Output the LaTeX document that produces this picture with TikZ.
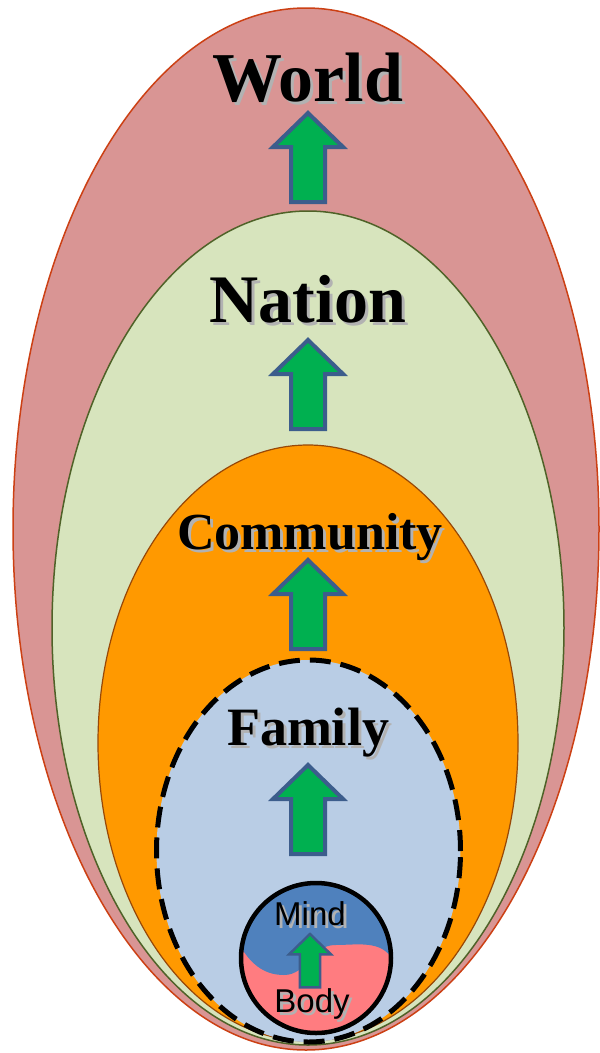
\documentclass[tikz,border=0pt]{standalone}
\usepackage{fontspec}
\setmainfont{Liberation Serif}
\setsansfont{Liberation Sans}
\usepackage{tikz}
\usetikzlibrary{calc}
\definecolor{worldfill}{RGB}{217,149,148}
\definecolor{worldline}{RGB}{204,64,20}
\definecolor{nationfill}{RGB}{215,228,189}
\definecolor{nationline}{RGB}{79,98,40}
\definecolor{commfill}{RGB}{255,153,0}
\definecolor{commline}{RGB}{152,72,7}
\definecolor{familyfill}{RGB}{185,205,229}
\definecolor{mindblue}{RGB}{79,129,189}
\definecolor{bodypink}{RGB}{255,124,128}
\definecolor{arrowgreen}{RGB}{0,176,80}
\definecolor{arrowline}{RGB}{60,93,140}
\tikzstyle{world}=[fill=worldfill, draw=worldline, line width=1.5pt]
\tikzstyle{nation}=[fill=nationfill, draw=nationline, line width=1.5pt]
\tikzstyle{community}=[fill=commfill, draw=commline, line width=1.2pt]
\tikzstyle{family}=[fill=familyfill, draw=black, line width=5pt, dash pattern=on 21pt off 10pt]
\tikzstyle{uparrow}=[fill=arrowgreen, draw=arrowline, line width=4pt, line join=miter]
\tikzstyle{title}=[anchor=base, font=\fontsize{68}{76}\selectfont\bfseries]
\tikzstyle{inner}=[anchor=base, font=\sffamily\fontsize{33}{36}\selectfont]
\newcommand{\upArrow}[3]{
	\begin{scope}[shift={#1}, scale=#2]
		\draw[uparrow, #3] (0,0) -- (35,-34) -- (17,-34) -- (17,-89) -- (-17,-89) -- (-17,-34) -- (-35,-34) -- cycle;
	\end{scope}
}
\newcommand{\shadowLabel}[4]{
	\node[#3, text=gray!60] (#1s) at ($#2+(3,-3)$) {#4};
	\node[#3] (#1) at #2 {#4};
}

\begin{document}
\begin{tikzpicture}[x=1pt, y=1pt]
	\fill[white] (0,0) rectangle (600,-1053);
	\useasboundingbox (0,0) rectangle (600,-1053);
	\draw[world] (306,-529) ellipse [x radius=293, y radius=521];
	\draw[nation] (308,-628) ellipse [x radius=256, y radius=417];
	\draw[community] (308,-743) ellipse [x radius=210, y radius=298];
	\draw[family] (308.5,-851) ellipse [x radius=152, y radius=191];
	% mind and body
	\begin{scope}
		\clip (316,-958) circle (75);
		\fill[bodypink] (316,-958) circle (75);
		\fill[mindblue] (230,-940) -- (239,-944) to[out=-60,in=180] (284,-975) to[out=0,in=180] (335,-945) to[out=0,in=120] (393,-960) -- (400,-962) -- (400,-870) -- (230,-870) -- cycle;
	\end{scope}
	\draw[line width=4.5pt] (316,-958) circle (75);
	\upArrow{(308,-113)}{1}{}
	\upArrow{(308,-340)}{1}{}
	\upArrow{(308,-560)}{1}{}
	\upArrow{(308,-765)}{1}{}
	\upArrow{(310,-934)}{0.6}{line width=2.5pt}
	\shadowLabel{world}{(308,-101)}{title, font=\fontsize{70}{78}\selectfont\bfseries}{World}
	\shadowLabel{nation}{(308,-322)}{title}{Nation}
	\shadowLabel{community}{(310,-549)}{title, font=\fontsize{52}{60}\selectfont\bfseries}{Community}
	\shadowLabel{family}{(308,-745)}{title, font=\fontsize{54}{60}\selectfont\bfseries}{Family}
	\shadowLabel{mind}{(310,-925)}{inner}{Mind}
	\shadowLabel{body}{(312,-1012)}{inner}{Body}
\end{tikzpicture}
\end{document}
